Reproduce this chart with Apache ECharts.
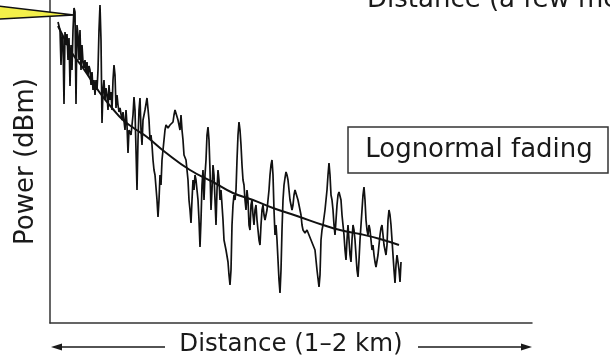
<!DOCTYPE html>
<html>
<head>
<meta charset="utf-8">
<script src="https://cdn.jsdelivr.net/npm/echarts@6/dist/echarts.min.js"></script>
<style>html,body{margin:0;padding:0;background:#fff;}#c{width:610px;height:363px;}</style>
</head>
<body>
<div id="c"></div>
<script>
// Received power samples along the route: [distance (m), power (dBm)]
const fadingSamples = [
[1016,-35.5],[1020,-37.5],[1022,-46.25],[1024,-38.75],[1026,-40],[1028,-56],[1030,-38],[1032,-41.25],[1034,-38.5],[1036,-45],
[1038,-39.5],[1040,-51.5],[1042,-41.25],[1044,-47.5],[1046,-37.5],[1048,-32],[1050,-33],[1052,-56],[1054,-36.25],[1056,-38.75],
[1058,-45],[1060,-37.5],[1062,-47.5],[1064,-41.25],[1066,-45.5],[1068,-47],[1070,-45],[1072,-48],[1074,-45.5],[1076,-48.75],
[1078,-46.5],[1080,-47.5],[1082,-51.25],[1084,-48],[1086,-52.5],[1088,-50],[1090,-53.75],[1092,-50],[1094,-52.5],[1096,-47.5],
[1098,-37.5],[1100,-31.25],[1102,-40],[1104,-60.75],[1106,-52.5],[1108,-50],[1110,-55],[1112,-52],[1114,-53.75],[1116,-57.5],
[1118,-51.25],[1120,-55],[1122,-53],[1124,-57.5],[1126,-50],[1128,-46.25],[1130,-48.75],[1132,-57],[1134,-53.75],[1136,-56.25],
[1138,-58],[1140,-57],[1144,-60],[1146,-58],[1150,-62.5],[1152,-57.5],[1154,-61.25],[1156,-68.25],[1158,-62.5],[1162,-63.75],
[1166,-58.75],[1168,-54.25],[1170,-57.5],[1172,-67.5],[1174,-77.5],[1176,-65],[1178,-57.5],[1180,-54.5],[1182,-62.5],[1184,-66.25],
[1186,-60],[1190,-57.5],[1194,-54.5],[1196,-55],[1198,-60],[1200,-65],[1202,-63.75],[1204,-66.25],[1206,-70],[1208,-72.5],
[1210,-73.75],[1214,-80],[1216,-84.25],[1218,-80],[1220,-73.75],[1222,-76.25],[1224,-70],[1226,-67.5],[1228,-65],[1230,-62.5],
[1232,-61.25],[1234,-60.75],[1236,-62],[1240,-61.25],[1244,-61.25],[1246,-60.5],[1248,-58.75],[1250,-57.5],[1252,-57],[1254,-58],
[1256,-60],[1258,-59.5],[1260,-62.5],[1262,-58.75],[1264,-62.5],[1266,-65],[1268,-68.75],[1272,-70],[1274,-72.5],[1276,-75],
[1278,-80],[1280,-82.5],[1282,-85.75],[1284,-80],[1286,-75],[1288,-77.5],[1290,-73.75],[1292,-75],[1294,-77.5],[1296,-80],
[1298,-85],[1300,-91.75],[1302,-85],[1304,-76.25],[1306,-72.5],[1308,-80],[1310,-73.75],[1312,-70],[1314,-63.75],[1316,-61.75],
[1318,-65],[1320,-72.5],[1322,-82.5],[1324,-77.5],[1326,-71.25],[1328,-73.75],[1330,-80],[1332,-86.25],[1334,-77.5],[1336,-72.5],
[1338,-75],[1340,-80],[1342,-77.5],[1344,-81.25],[1346,-85],[1348,-90],[1352,-92.5],[1356,-95.5],[1358,-98.75],[1360,-101.25],
[1362,-97.5],[1364,-86.25],[1366,-81.25],[1368,-78.75],[1370,-80],[1372,-77.5],[1374,-70],[1376,-63.75],[1378,-60.5],[1380,-62.5],
[1382,-66.25],[1384,-71.25],[1386,-75],[1388,-76.25],[1390,-80],[1392,-82.5],[1394,-77.5],[1396,-80],[1398,-86.25],[1400,-87.5],
[1402,-81.25],[1404,-80],[1406,-83.75],[1408,-86.25],[1410,-82.5],[1412,-81.25],[1414,-85],[1416,-87.5],[1418,-90],[1420,-91.25],
[1422,-86.25],[1424,-82.5],[1426,-81.25],[1428,-83.75],[1430,-85],[1432,-83.75],[1434,-82.5],[1436,-80],[1438,-77.5],[1440,-73.75],
[1442,-71.25],[1444,-70],[1446,-73.75],[1448,-82.5],[1450,-88.75],[1452,-86.25],[1454,-90],[1456,-95],[1458,-100],[1460,-103.25],
[1462,-97.5],[1464,-87.5],[1466,-80],[1468,-76.25],[1470,-74.5],[1472,-73],[1474,-73.75],[1476,-75],[1478,-77.5],[1480,-80],
[1482,-81.25],[1484,-82.5],[1486,-81.25],[1488,-78.75],[1490,-77.5],[1492,-77],[1494,-78],[1496,-80],[1498,-81.25],[1500,-82.5],
[1502,-83.75],[1504,-86.25],[1506,-87.5],[1510,-88.25],[1514,-87.5],[1518,-88.75],[1522,-90],[1526,-91.25],[1530,-92.5],[1534,-97.5],
[1538,-101.75],[1540,-98.75],[1542,-90],[1544,-87.5],[1546,-86.25],[1550,-82.5],[1554,-77.5],[1556,-73.75],[1558,-70.75],[1560,-73.75],
[1562,-78.75],[1564,-80],[1566,-82.5],[1568,-86.25],[1570,-88.75],[1572,-85],[1574,-81.25],[1576,-78.75],[1578,-78],[1580,-77.5],
[1582,-80],[1584,-83.75],[1586,-86.25],[1588,-88.75],[1590,-92.5],[1592,-95],[1594,-90],[1596,-86.25],[1598,-90],[1600,-93.75],
[1602,-95.5],[1604,-90],[1606,-86.25],[1608,-87.5],[1610,-90],[1612,-93.75],[1614,-97.5],[1616,-99.25],[1618,-95],[1620,-90],
[1622,-86.25],[1624,-82.5],[1626,-78.75],[1628,-76.75],[1630,-80],[1632,-85],[1634,-87.5],[1636,-88.75],[1638,-86.25],[1640,-87.5],
[1642,-90],[1644,-92.5],[1646,-91.25],[1648,-93.75],[1650,-95.5],[1652,-96.75],[1654,-96.25],[1656,-93.75],[1658,-91.25],[1660,-88.75],
[1662,-87],[1664,-86.25],[1666,-88.75],[1668,-91.25],[1670,-92.5],[1672,-93.75],[1674,-91.25],[1676,-85],[1678,-82.5],[1680,-83.75],
[1682,-86.25],[1684,-90],[1686,-93.75],[1688,-97.5],[1690,-100.75],[1692,-96.25],[1694,-93.75],[1696,-95.5],[1698,-97.5],[1700,-100.5],
[1702,-95.5]
];
// Mean (path-loss) trend
const meanDist  = [1016,1030,1044,1066,1100,1124,1146,1170,1194,1230,1280,1326,1366,1406,1446,1494,1546,1580,1620,1660,1698];
const meanPower = [-36.5,-40,-43.25,-47,-53.25,-57,-60,-62.25,-64.25,-68,-72.5,-75.5,-78.25,-80,-82,-84,-86.25,-87.5,-88.5,-89.75,-91.25];

const xTitle = 'Distance (1–2 km)';
const yTitle = 'Power (dBm)';
const boxLabel = 'Lognormal fading';
const topLabel = 'Distance (a few meters)';

const FONT = 'DejaVu Sans';
const chart = echarts.init(document.getElementById('c'), null, {renderer: 'canvas'});

const meanData = meanDist.map((d, i) => [d, meanPower[i]]);

chart.setOption({
  animation: false,
  backgroundColor: '#fff',
  grid: {left: 50, right: 78, top: 0, bottom: 40, containLabel: false},
  xAxis: {
    type: 'value', min: 1000, max: 1964,
    axisLine: {show: true, lineStyle: {color: '#333', width: 1.5}},
    axisTick: {show: false}, axisLabel: {show: false}, splitLine: {show: false},
    name: xTitle, nameLocation: 'middle', nameGap: 9,
    nameTextStyle: {fontFamily: FONT, fontSize: 24.5, color: '#1a1a1a', verticalAlign: 'top'}
  },
  yAxis: {
    type: 'value', min: -110.75, max: -30,
    axisLine: {show: true, onZero: false, lineStyle: {color: '#333', width: 1.5}},
    axisTick: {show: false}, axisLabel: {show: false}, splitLine: {show: false},
    name: yTitle, nameLocation: 'middle', nameRotate: 90, nameGap: 11,
    nameTextStyle: {fontFamily: FONT, fontSize: 26, color: '#1a1a1a'}
  },
  series: [
    {
      type: 'line', data: fadingSamples, showSymbol: false, smooth: false,
      lineStyle: {color: '#111', width: 1.7}, z: 2
    },
    {
      type: 'line', data: meanData, showSymbol: false, smooth: true,
      lineStyle: {color: '#111', width: 2}, z: 3
    }
  ],
  graphic: [
    // arrows around x title
    {type: 'line', shape: {x1: 56, y1: 347, x2: 165, y2: 347}, style: {stroke: '#1a1a1a', lineWidth: 1.5}},
    {type: 'polygon', shape: {points: [[51, 347], [62, 343.5], [62, 350.5]]}, style: {fill: '#1a1a1a'}},
    {type: 'line', shape: {x1: 418, y1: 347, x2: 527, y2: 347}, style: {stroke: '#1a1a1a', lineWidth: 1.5}},
    {type: 'polygon', shape: {points: [[532, 347], [521, 343.5], [521, 350.5]]}, style: {fill: '#1a1a1a'}},
    // lognormal box
    {type: 'rect', shape: {x: 348, y: 127, width: 260, height: 46}, style: {fill: '#fff', stroke: '#333', lineWidth: 1.5}, z: 10},
    {type: 'text', x: 479, y: 150, z: 11, style: {text: boxLabel, fontFamily: FONT, fontSize: 26, fill: '#1a1a1a', align: 'center', verticalAlign: 'middle'}},
    // clipped top label
    {type: 'text', x: 367, y: 0, z: 11, style: {text: topLabel, fontFamily: FONT, fontSize: 26, fill: '#1a1a1a', align: 'left', verticalAlign: 'middle'}},
    // yellow callout wedge
    {type: 'polygon', shape: {points: [[-2, 6], [74, 15], [-2, 19]]}, style: {fill: '#f3ef4a', stroke: '#111', lineWidth: 1.5}, z: 12}
  ]
});
</script>
</body>
</html>
